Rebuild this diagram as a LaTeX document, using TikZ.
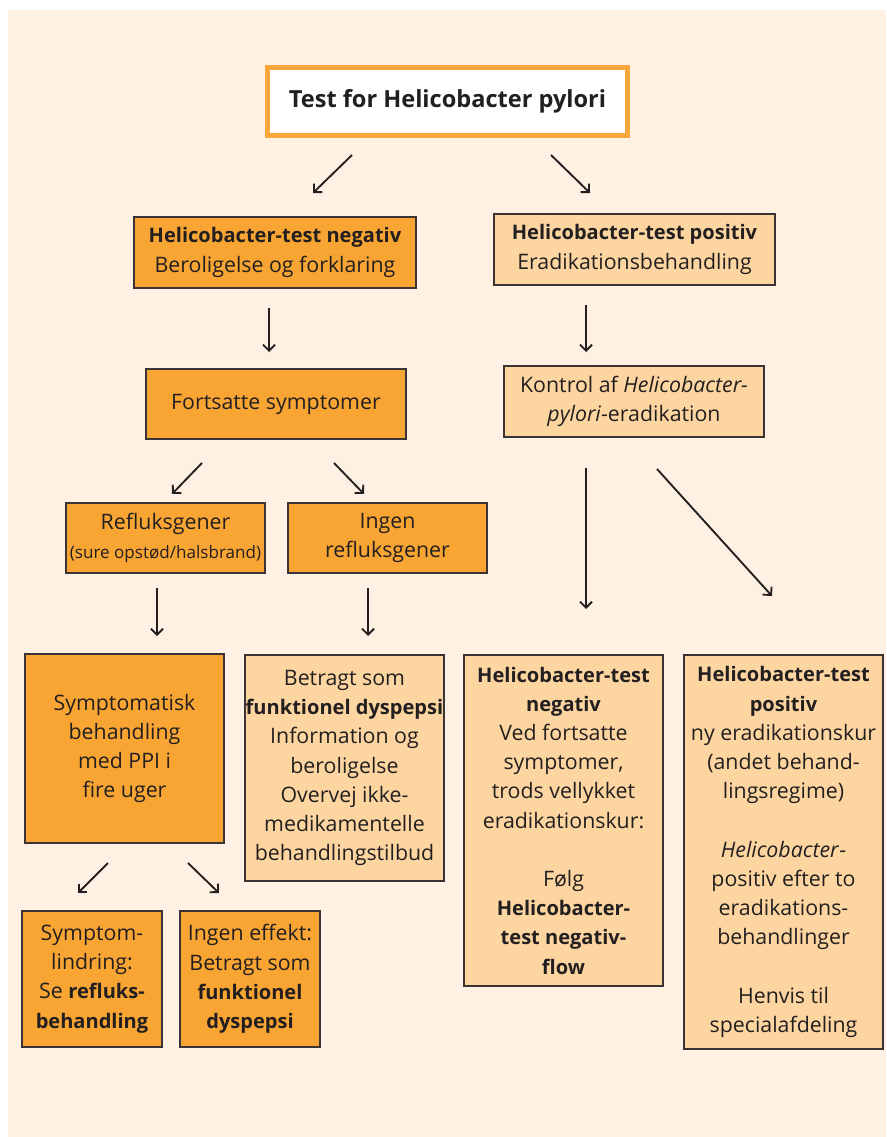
\documentclass[tikz,border=0pt]{standalone}
\usepackage{fontspec}
\setmainfont{Open Sans}[BoldFeatures={Scale=0.94}]
\usetikzlibrary{arrows.meta}
\definecolor{cream}{HTML}{FEF1E3}
\definecolor{darkor}{HTML}{F8A533}
\definecolor{lightor}{HTML}{FDD5A0}
\definecolor{topor}{HTML}{F9A73A}
\definecolor{edge}{HTML}{3B3434}
\definecolor{ink}{HTML}{231F20}
\tikzset{
  box/.style 2 args={draw=edge, line width=0.9pt, inner sep=0pt, align=center,
    minimum width=#1*0.75pt, minimum height=#2*0.75pt, text=ink,
    font=\fontsize{16}{21.9}\selectfont},
  darkbox/.style={fill=darkor},
  lightbox/.style={fill=lightor},
  arr/.style={draw=ink, line width=1.4pt, -{Straight Barb[length=4.5pt,width=9pt,line width=1.4pt]}}
}
\begin{document}
\begin{tikzpicture}[x=0.75pt,y=-0.75pt]
\useasboundingbox (0,0) rectangle (886,1137);
\fill[white] (0,0) rectangle (886,1137);
\fill[cream] (8,10) rectangle (886,1137);

\node[box={360}{68}, draw=topor, line width=3.75pt, fill=white, font=\fontsize{18.8}{22}\selectfont] (top) at (447.5,101.5)
  {\textbf{Test for Helicobacter pylori}};

\node[box={282}{71}, darkbox] (neg) at (275,252.5)
  {\textbf{Helicobacter-test negativ}\\Beroligelse og forklaring};
\node[box={281}{71}, lightbox] (pos) at (634.5,249.5)
  {\textbf{Helicobacter-test positiv}\\Eradikationsbehandling};

\node[box={260}{70}, darkbox] (fort) at (276,404) {Fortsatte symptomer};
\node[box={260}{71}, lightbox] (kontrol) at (634,401.5)
  {Kontrol af \textit{Helicobacter-}\\\textit{pylori}-eradikation};

\node[box={199}{70}, darkbox] (reflux) at (165.5,538)
  {Refluksgener\\{\fontsize{12.8}{21.9}\selectfont (sure opstød/halsbrand)}};
\node[box={199}{70}, darkbox] (ingen) at (387.5,538) {Ingen\\refluksgener};

\node[box={199}{189}, darkbox] (sympt) at (124.5,748.5)
  {Symptomatisk\\behandling\\med PPI i\\fire uger};
\node[box={199}{226}, lightbox] (betragt) at (344.5,768)
  {Betragt som\\\textbf{funktionel dyspepsi}\\Information og\\beroligelse\\Overvej ikke-\\medikamentelle\\behandlingstilbud};

\node[box={199}{331}, lightbox] (hneg) at (563.5,820.5)
  {\textbf{Helicobacter-test}\\\textbf{negativ}\\Ved fortsatte\\symptomer,\\trods vellykket\\eradikationskur:\\[21.9pt]
   Følg\\\textbf{Helicobacter-}\\\textbf{test negativ-}\\\textbf{flow}};
\node[box={199}{394}, lightbox] (hpos) at (783.5,852)
  {\textbf{Helicobacter-test}\\\textbf{positiv}\\ny eradikationskur\\(andet behand-\\lingsregime)\\[21.9pt]
   \textit{Helicobacter}-\\positiv efter to\\eradikations-\\behandlinger\\[21.9pt]Henvis til\\specialafdeling};

\node[box={140}{136}, darkbox] (lind) at (92,979)
  {Symptom-\\lindring:\\Se \textbf{refluks-}\\\textbf{behandling}};
\node[box={140}{136}, darkbox] (effekt) at (250,979)
  {Ingen effekt:\\Betragt som\\\textbf{funktionel}\\\textbf{dyspepsi}};

% arrow end points
\coordinate (a1s) at (352,155); \coordinate (a1e) at (313,193);
\coordinate (a2s) at (551,155); \coordinate (a2e) at (590,193);
\coordinate (a3s) at (269,308); \coordinate (a3e) at (269,352);
\coordinate (a4s) at (586,305); \coordinate (a4e) at (586,352);
\coordinate (a5s) at (202,463); \coordinate (a5e) at (172,494);
\coordinate (a6s) at (334,463); \coordinate (a6e) at (364,494);
\coordinate (a7s) at (157,588); \coordinate (a7e) at (157,636);
\coordinate (a8s) at (368,588); \coordinate (a8e) at (368,636);
\coordinate (a9s) at (586,468); \coordinate (a9e) at (586,609);
\coordinate (a10s) at (657,469); \coordinate (a10e) at (772,596);
\coordinate (a11s) at (108,863); \coordinate (a11e) at (78,893);
\coordinate (a12s) at (188,863); \coordinate (a12e) at (219,893);
\foreach \i in {1,...,12} {\draw[arr] (a\i s) -- (a\i e);}
\end{tikzpicture}
\end{document}
